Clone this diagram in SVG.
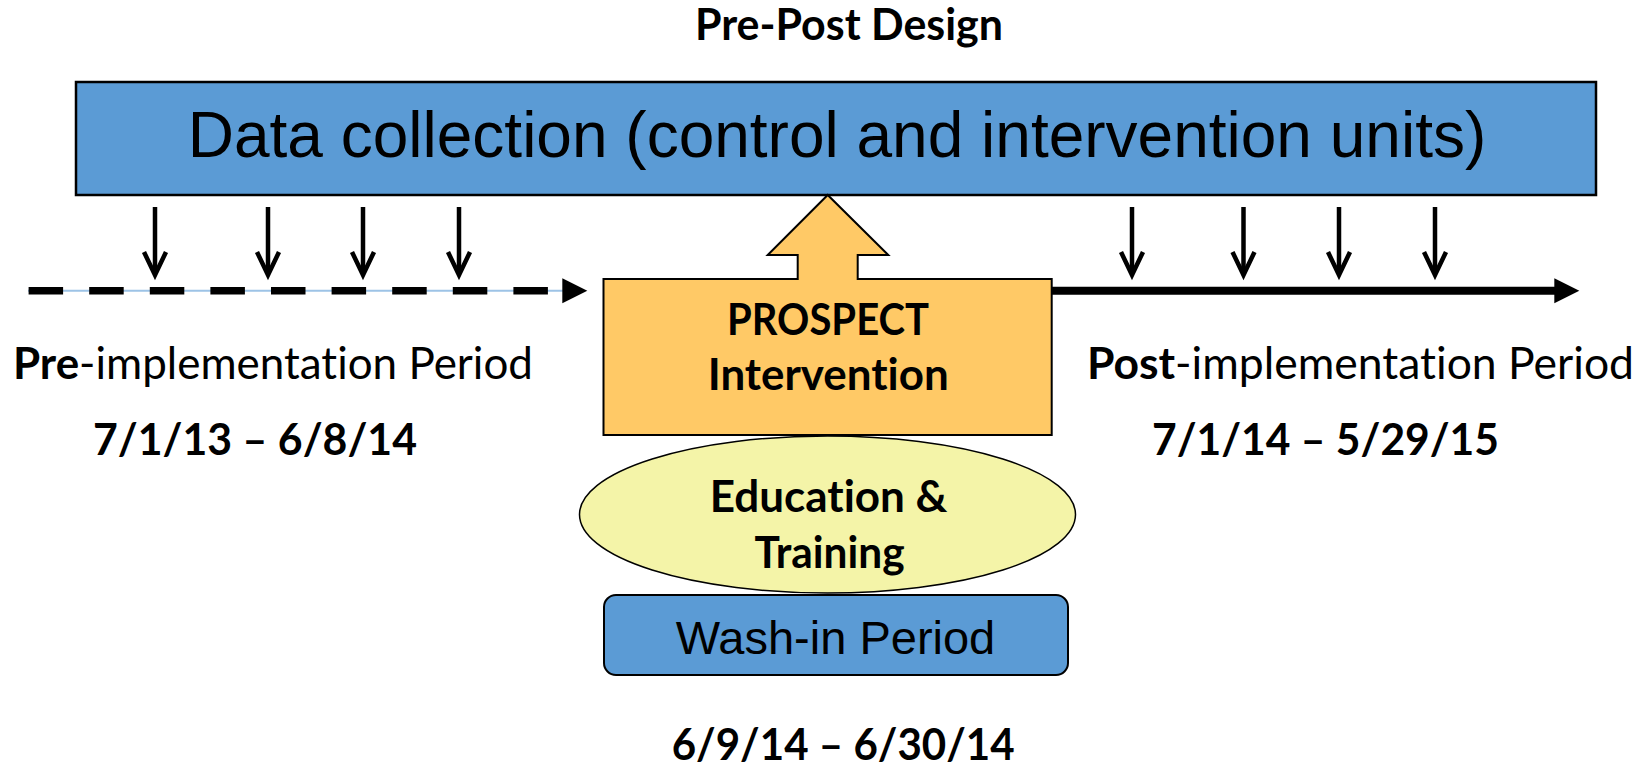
<svg xmlns="http://www.w3.org/2000/svg" width="1650" height="768" viewBox="0 0 1650 768">
  <style>
    .lbl { font-family: Lato, "Open Sans", "Noto Sans", sans-serif; font-size: 44px; fill: #000; font-variant-ligatures: none; font-feature-settings: "liga" 0, "clig" 0; }
    .b { font-weight: 700; }
    .r { font-weight: 400; }
    .arial { font-family: "Liberation Sans", Arial, sans-serif; fill: #000; }
    .blue { fill: #5B9BD5; stroke: #000; }
    .down { fill: none; stroke: #000; stroke-width: 4.5; stroke-linejoin: miter; }
  </style>
  <defs>
    <!-- downward sampling arrow: shaft plus open V head, tip at (0,0) -->
    <g id="downArrow">
      <line class="down" x1="0" y1="-68" x2="0" y2="-3"/>
      <polyline class="down" points="-11,-23 0,0 11,-23"/>
    </g>
  </defs>

  <rect width="1650" height="768" fill="#fff"/>

  <g id="title">
    <text class="lbl b" x="695" y="40" textLength="308" lengthAdjust="spacingAndGlyphs">Pre-Post Design</text>
  </g>

  <g id="data-collection">
    <rect class="blue" x="76" y="82" width="1520" height="113" stroke-width="2.5"/>
    <text class="arial" x="837" y="157" font-size="64" text-anchor="middle">Data collection (control and intervention units)</text>
  </g>

  <g id="connectors">
    <!-- pre-implementation timeline: thin line with bold dashes -->
    <line x1="28" y1="290.8" x2="564" y2="290.8" stroke="#9DC3E6" stroke-width="2"/>
    <line x1="28.6" y1="290.8" x2="548" y2="290.8" stroke="#000" stroke-width="7.5" stroke-dasharray="34.5 26.1"/>
    <polygon points="562.3,278.3 587.3,290.8 562.3,303.3" fill="#000"/>
    <!-- post-implementation timeline -->
    <line x1="1052" y1="290.8" x2="1558" y2="290.8" stroke="#000" stroke-width="8"/>
    <polygon points="1554.3,278.3 1579.3,290.8 1554.3,303.3" fill="#000"/>
    <!-- data collection points -->
    <use href="#downArrow" x="155" y="275"/>
    <use href="#downArrow" x="268" y="275"/>
    <use href="#downArrow" x="363" y="275"/>
    <use href="#downArrow" x="459" y="275"/>
    <use href="#downArrow" x="1132" y="275"/>
    <use href="#downArrow" x="1243.5" y="275"/>
    <use href="#downArrow" x="1339" y="275"/>
    <use href="#downArrow" x="1435" y="275"/>
  </g>

  <g id="pre-period">
    <text class="lbl r" x="13" y="379" textLength="520" lengthAdjust="spacingAndGlyphs"><tspan class="b">Pre</tspan>-implementation Period</text>
    <text class="lbl b" x="93" y="455" textLength="324" lengthAdjust="spacingAndGlyphs">7/1/13 – 6/8/14</text>
  </g>

  <g id="post-period">
    <text class="lbl r" x="1087" y="379" textLength="547" lengthAdjust="spacingAndGlyphs"><tspan class="b">Post</tspan>-implementation Period</text>
    <text class="lbl b" x="1152" y="455" textLength="347" lengthAdjust="spacingAndGlyphs">7/1/14 – 5/29/15</text>
  </g>

  <g id="prospect-intervention">
    <path d="M603.5,279 H797.7 V255 H767.7 L827.7,195 L888.3,255 H857.7 V279 H1051.7 V435 H603.5 Z" fill="#FFC966" stroke="#000" stroke-width="2" stroke-linejoin="miter"/>
    <text class="lbl b" x="727" y="335" textLength="202" lengthAdjust="spacingAndGlyphs">PROSPECT</text>
    <text class="lbl b" x="707.7" y="390" textLength="241" lengthAdjust="spacingAndGlyphs">Intervention</text>
  </g>

  <g id="education-training">
    <ellipse cx="827.5" cy="514.5" rx="248" ry="78.5" fill="#F4F4A8" stroke="#000" stroke-width="1.5"/>
    <text class="lbl b" x="709.8" y="512" textLength="237.6" lengthAdjust="spacingAndGlyphs">Education &amp;</text>
    <text class="lbl b" x="754.6" y="568" textLength="150" lengthAdjust="spacingAndGlyphs">Training</text>
  </g>

  <g id="wash-in">
    <rect class="blue" x="604" y="595" width="464" height="80" rx="12" stroke-width="2"/>
    <text class="arial" x="835.5" y="654" font-size="47" text-anchor="middle">Wash-in Period</text>
    <text class="lbl b" x="671.7" y="760" textLength="343" lengthAdjust="spacingAndGlyphs">6/9/14 – 6/30/14</text>
  </g>
</svg>
